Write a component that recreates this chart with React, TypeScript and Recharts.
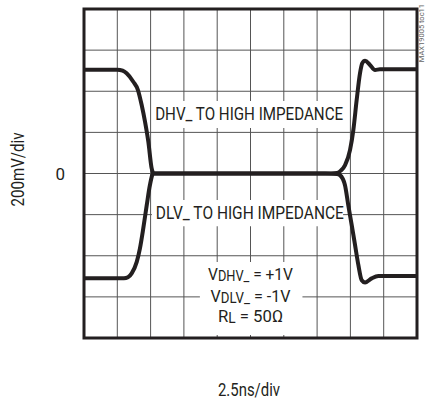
import React from "react";
import {
  LineChart,
  Line,
  XAxis,
  YAxis,
  CartesianGrid,
  ReferenceArea,
  ReferenceDot,
} from "recharts";

// time in ns, level in volts (200mV/div, 2.5ns/div)
const timeTicks = [0, 2.5, 5, 7.5, 10, 12.5, 15, 17.5, 20, 22.5, 25];
const voltTicks = [-0.8, -0.6, -0.4, -0.2, 0, 0.2, 0.4, 0.6, 0.8];

const dhvTime = [0, 2.5, 2.9, 3.2, 3.7, 4.05, 4.33, 4.58, 4.83, 5.08, 5.25, 18.1, 19.0, 19.3, 19.6, 19.97, 20.22, 20.47, 20.72, 20.89, 21.1, 21.47, 21.85, 22.22, 25];
const dhvVolt = [0.505, 0.505, 0.5, 0.487, 0.446, 0.406, 0.333, 0.252, 0.154, 0.025, 0, 0, 0.003, 0.015, 0.041, 0.114, 0.211, 0.357, 0.487, 0.536, 0.548, 0.528, 0.503, 0.507, 0.507];

const dlvTime = [0, 3.0, 3.3, 3.58, 3.96, 4.2, 4.45, 4.71, 4.95, 5.2, 18.1, 19.0, 19.22, 19.59, 19.84, 20.1, 20.35, 20.6, 20.85, 21.1, 21.6, 22.1, 25];
const dlvVolt = [-0.51, -0.51, -0.505, -0.486, -0.43, -0.364, -0.267, -0.154, -0.056, 0, 0, -0.002, -0.008, -0.056, -0.154, -0.251, -0.348, -0.446, -0.519, -0.53, -0.51, -0.499, -0.499];

const dhvData = dhvTime.map((t, i) => ({ t, v: dhvVolt[i] }));
const dlvData = dlvTime.map((t, i) => ({ t, v: dlvVolt[i] }));

const INK = "#231f20";
const FONT = "Roboto, 'Liberation Sans', sans-serif";

const bigText = (label: string) => (p: any) => (
  <text
    x={p.cx}
    y={p.cy}
    textAnchor="middle"
    dominantBaseline="central"
    fontFamily={FONT}
    fontSize={18.5}
    fill={INK}
    textLength={188}
    lengthAdjust="spacingAndGlyphs"
  >
    {label}
  </text>
);

const subText = (main: string, sub: string, rest: string, len: number) => (p: any) => (
  <text
    x={p.cx}
    y={p.cy}
    textAnchor="middle"
    dominantBaseline="central"
    fontFamily={FONT}
    fontSize={17}
    fill={INK}
    textLength={len}
    lengthAdjust="spacingAndGlyphs"
  >
    <tspan>{main}</tspan>
    <tspan fontSize={14} dy={2}>{sub}</tspan>
    <tspan dy={-2}>{rest}</tspan>
  </text>
);

export default function App() {
  return (
    <div style={{ position: "absolute", left: 0, top: 0, background: "#fff" }}>
      <LineChart
        width={425}
        height={402}
        margin={{ top: 9, right: 8, bottom: 0, left: 0 }}
      >
        <CartesianGrid stroke="#555" strokeWidth={1} verticalValues={timeTicks} horizontalValues={voltTicks} />
        <XAxis
          type="number"
          dataKey="t"
          domain={[0, 25]}
          ticks={timeTicks}
          allowDataOverflow
          height={64}
          tickFormatter={() => ""}
          tickLine={false}
          axisLine={false}
          label={{
            content: (props: any) => {
              const vb = props.viewBox;
              return (
                <text
                  x={vb.x + vb.width / 2 - 1.5}
                  y={vb.y + 58}
                  textAnchor="middle"
                  fontFamily={FONT}
                  fontSize={17.5}
                  fill={INK}
                  textLength={62}
                  lengthAdjust="spacingAndGlyphs"
                >
                  2.5ns/div
                </text>
              );
            },
          }}
        />
        <YAxis
          type="number"
          dataKey="v"
          domain={[-0.8, 0.8]}
          ticks={voltTicks}
          allowDataOverflow
          width={84}
          tickLine={false}
          axisLine={false}
          tickSize={0}
          tickMargin={19}
          tickFormatter={(v: number) => (Math.abs(v) < 1e-9 ? "0" : "")}
          tick={{ fontFamily: FONT, fontSize: 17, fill: INK }}
          label={{
            content: (props: any) => {
              const vb = props.viewBox;
              const cx = vb.x + 18;
              const cy = vb.y + vb.height / 2 - 4;
              return (
                <text
                  transform={`translate(${cx},${cy}) rotate(-90)`}
                  textAnchor="middle"
                  dominantBaseline="central"
                  fontFamily={FONT}
                  fontSize={17.5}
                  fill={INK}
                  textLength={74}
                  lengthAdjust="spacingAndGlyphs"
                >
                  200mV/div
                </text>
              );
            },
          }}
        />
        <ReferenceArea x1={5.18} x2={19.6} y1={0.221} y2={0.352} fill="#fff" fillOpacity={1} stroke="none" />
        <ReferenceArea x1={5.1} x2={19.45} y1={-0.256} y2={-0.129} fill="#fff" fillOpacity={1} stroke="none" />
        <ReferenceArea x1={8.7} x2={16.4} y1={-0.786} y2={-0.431} fill="#fff" fillOpacity={1} stroke="none" />
        <ReferenceDot x={12.4} y={0.287} shape={bigText("DHV_ TO HIGH IMPEDANCE")} />
        <ReferenceDot x={12.45} y={-0.193} shape={bigText("DLV_ TO HIGH IMPEDANCE")} />
        <ReferenceDot x={12.5} y={-0.49} shape={subText("V", "DHV_", " =  +1V", 85)} />
        <ReferenceDot x={12.5} y={-0.597} shape={subText("V", "DLV_", " = -1V", 80)} />
        <ReferenceDot x={12.5} y={-0.694} shape={subText("R", "L", " = 50Ω", 65)} />
        <Line
          data={dhvData}
          dataKey="v"
          type="monotone"
          stroke={INK}
          strokeWidth={4}
          dot={false}
          isAnimationActive={false}
        />
        <Line
          data={dlvData}
          dataKey="v"
          type="monotone"
          stroke={INK}
          strokeWidth={4}
          dot={false}
          isAnimationActive={false}
        />
        <ReferenceArea x1={0} x2={25} y1={-0.8} y2={0.8} fill="none" stroke={INK} strokeWidth={3} />
        <ReferenceDot
          x={25}
          y={0.8}
          ifOverflow="visible"
          shape={(p: any) => (
            <text
              transform={`translate(${p.cx + 7},${p.cy - 5}) rotate(-90)`}
              textAnchor="end"
              fontFamily={FONT}
              fontSize={7.5}
              fill="#666"
            >
              MAX19005 toc11
            </text>
          )}
        />
      </LineChart>
    </div>
  );
}
